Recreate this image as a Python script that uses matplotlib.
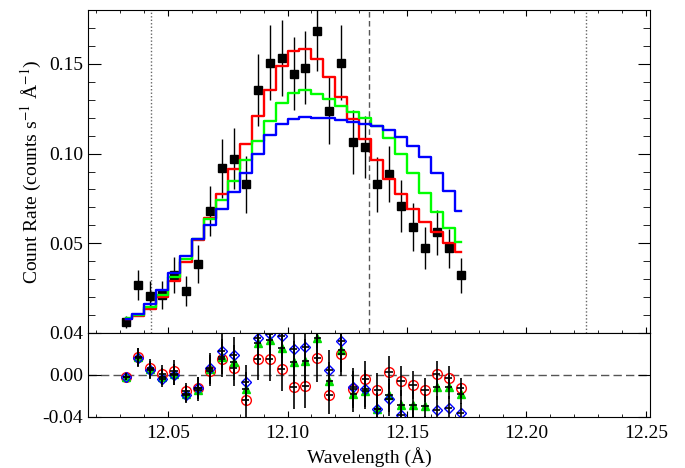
import numpy as np
import matplotlib
matplotlib.use("Agg")
import matplotlib.pyplot as plt
from matplotlib.ticker import MultipleLocator, FormatStrFormatter

plt.rcParams['font.family'] = ['Liberation Serif', 'DejaVu Serif']
plt.rcParams['mathtext.fontset'] = 'stix'
plt.rcParams['font.size'] = 14

# --- data ---
wave = [12.0325, 12.0375, 12.0425, 12.0475, 12.0525, 12.0575, 12.0625, 12.0675,
        12.0725, 12.0775, 12.0825, 12.0875, 12.0925, 12.0975, 12.1025, 12.1075,
        12.1125, 12.1175, 12.1225, 12.1275, 12.1325, 12.1375, 12.1425, 12.1475,
        12.1525, 12.1575, 12.1625, 12.1675, 12.1725]

rate = [0.0061, 0.0268, 0.0207, 0.0211, 0.0322, 0.0235, 0.0385, 0.0678, 0.0917,
        0.0970, 0.0828, 0.1356, 0.1507, 0.1533, 0.1446, 0.1479, 0.1685, 0.1239,
        0.1507, 0.1063, 0.1037, 0.0828, 0.0887, 0.0707, 0.0589, 0.0472, 0.0561,
        0.0472, 0.0322]

rate_err = [0.0035, 0.0085, 0.0080, 0.0080, 0.0100, 0.0083, 0.0106, 0.0140, 0.0165,
            0.0170, 0.0157, 0.0200, 0.0210, 0.0210, 0.0205, 0.0205, 0.0226, 0.0188,
            0.0210, 0.0178, 0.0174, 0.0155, 0.0157, 0.0144, 0.0134, 0.0116, 0.0127,
            0.0110, 0.0097]

model_red = [0.0078, 0.0096, 0.0133, 0.0203, 0.0292, 0.0398, 0.0518, 0.0639, 0.0772,
             0.0913, 0.1056, 0.1207, 0.1356, 0.1487, 0.1570, 0.1583, 0.1528, 0.1426,
             0.1314, 0.1194, 0.1083, 0.0963, 0.0861, 0.0772, 0.0689, 0.0620, 0.0564,
             0.0500, 0.0453]

model_green = [0.0085, 0.0100, 0.0144, 0.0213, 0.0311, 0.0411, 0.0524, 0.0633, 0.0741,
               0.0848, 0.0963, 0.1070, 0.1181, 0.1280, 0.1335, 0.1354, 0.1332, 0.1302,
               0.1268, 0.1233, 0.1197, 0.1155, 0.1089, 0.0996, 0.0889, 0.0781, 0.0676,
               0.0583, 0.0509]

model_blue = [0.0078, 0.0106, 0.0161, 0.0241, 0.0337, 0.0429, 0.0522, 0.0602, 0.0689,
              0.0787, 0.0889, 0.1000, 0.1102, 0.1165, 0.1192, 0.1203, 0.1201, 0.1196,
              0.1187, 0.1177, 0.1167, 0.1151, 0.1129, 0.1092, 0.1042, 0.0981, 0.0889,
              0.0792, 0.0681]

resid_red = [-0.0017, 0.0175, 0.0068, 0.0014, 0.0040, -0.0156, -0.0124, 0.0036, 0.0149,
             0.0062, -0.0242, 0.0149, 0.0149, 0.0053, -0.0117, -0.0105, 0.0158, -0.0188,
             0.0197, -0.0136, -0.0040, -0.0140, 0.0024, -0.0060, -0.0098, -0.0146,
             0.0005, -0.0024, -0.0124]

resid_green = [-0.0017, 0.0170, 0.0053, -0.0018, 0.0005, -0.0178, -0.0140, 0.0053, 0.0174,
               0.0120, -0.0130, 0.0302, 0.0334, 0.0260, 0.0120, 0.0133, 0.0356, -0.0060,
               0.0238, -0.0178, -0.0153, -0.0328, -0.0194, -0.0283, -0.0290, -0.0297,
               -0.0114, -0.0114, -0.0178]

resid_blue = [-0.0017, 0.0165, 0.0046, -0.0034, 0.0000, -0.0188, -0.0124, 0.0068, 0.0229,
              0.0190, -0.0066, 0.0356, 0.0389, 0.0372, 0.0248, 0.0270, 0.0484, 0.0046,
              0.0324, -0.0114, -0.0130, -0.0328, -0.0232, -0.0380, -0.0453, -0.0509,
              -0.0331, -0.0312, -0.0360]

line_center = 12.134
line_window = [12.043, 12.225]

# --- figure ---
fig = plt.figure(figsize=(6.85, 4.68), dpi=100)
ax1 = fig.add_axes([0.1285, 0.2885, 0.8204, 0.690])
ax2 = fig.add_axes([0.1285, 0.109, 0.8204, 0.1795], sharex=ax1)

# main panel
ax1.errorbar(wave, rate, yerr=rate_err, fmt='s', color='black', ms=6,
             elinewidth=1.0, capsize=0, zorder=2)
ax1.plot(wave, model_red, drawstyle='steps-mid', color='#ff0000', lw=1.7, zorder=3)
ax1.plot(wave, model_green, drawstyle='steps-mid', color='#00ff00', lw=1.7, zorder=3)
ax1.plot(wave, model_blue, drawstyle='steps-mid', color='#0000ff', lw=1.7, zorder=3)

for w in line_window:
    ax1.axvline(w, color='#666666', lw=1.0, linestyle=(0, (1, 1.5)), zorder=1)
ax1.axvline(line_center, color='#555555', lw=1.0, linestyle=(0, (4, 2.5)), zorder=1)

ax1.set_xlim(12.0165, 12.2517)
ax1.set_ylim(0.0, 0.18)
ax1.set_yticks([0.05, 0.10, 0.15])
ax1.yaxis.set_minor_locator(MultipleLocator(0.01))
ax1.yaxis.set_major_formatter(FormatStrFormatter('%.2f'))
ax1.xaxis.set_major_locator(MultipleLocator(0.05))
ax1.xaxis.set_minor_locator(MultipleLocator(0.01))
ax1.set_ylabel(r'Count Rate (counts s$^{-1}$ Å$^{-1}$)')
ax1.yaxis.set_label_coords(-0.078, 0.5)

ax1.tick_params(axis='x', which='major', direction='in', length=4.5, top=True,
                bottom=True, labelbottom=False)
ax1.tick_params(axis='x', which='minor', direction='in', length=2.4, top=True, bottom=True)
ax1.tick_params(axis='y', which='major', direction='in', length=9, left=True,
                right=True, pad=3.5)
ax1.tick_params(axis='y', which='minor', direction='in', length=4.8, left=True, right=True)

# residual panel
ax2.axhline(0.0, color='#555555', lw=1.0, linestyle=(0, (6, 3)), zorder=1)
ax2.plot(wave, resid_red, 'o', mfc='none', mec='#ff0000', ms=7, mew=1.0, zorder=2)
ax2.plot(wave, resid_green, '^', color='#00dd00', ms=5.5, zorder=2)
ax2.plot(wave, resid_blue, 'D', mfc='none', mec='#0000ff', ms=5, mew=1.0, zorder=2)
for res in (resid_red, resid_green, resid_blue):
    ax2.errorbar(wave, res, yerr=rate_err, xerr=0.0015, fmt='none', ecolor='black',
                 elinewidth=1.2, capsize=0, zorder=3)

ax2.set_ylim(-0.04, 0.04)
ax2.set_yticks([-0.04, 0.0, 0.04])
ax2.yaxis.set_major_formatter(FormatStrFormatter('%.2f'))
ax2.xaxis.set_major_formatter(FormatStrFormatter('%.2f'))
ax2.set_xlabel('Wavelength (Å)')
ax2.xaxis.set_label_coords(0.5, -0.36)

ax2.tick_params(axis='x', which='major', direction='in', length=4.5, top=False,
                bottom=True, pad=6)
ax2.tick_params(axis='x', which='minor', direction='in', length=2.4, top=False, bottom=True)
ax2.tick_params(axis='y', which='major', direction='in', length=9, left=True,
                right=True, pad=3.5)
ax2.tick_params(axis='y', which='minor', left=False, right=False)

fig.savefig('out.png', dpi=100)
